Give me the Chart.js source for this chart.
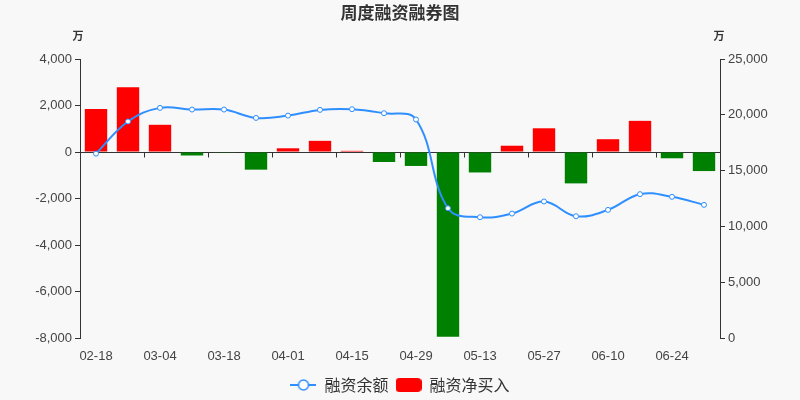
<!DOCTYPE html>
<html>
<head>
<meta charset="utf-8">
<script src="https://cdn.jsdelivr.net/npm/chart.js@4/dist/chart.umd.min.js"></script>
<style>
html,body{margin:0;padding:0;background:#f8f8f8;}
#wrap{width:800px;height:400px;}
</style>
</head>
<body>
<div id="wrap"><canvas id="chart" width="800" height="400"></canvas></div>
<script>
var dates = ['02-18','02-25','03-04','03-11','03-18','03-25','04-01','04-08','04-15','04-22','04-29','05-06','05-13','05-20','05-27','06-03','06-10','06-17','06-24','07-01'];
var balance = [16520,19400,20620,20470,20470,19720,19930,20440,20500,20140,19580,11630,10820,11150,12230,10910,11480,12890,12650,11930];
var netBuy = [1850,2790,1170,-150,-30,-760,160,480,50,-430,-600,-7950,-880,270,1020,-1350,550,1340,-270,-820];
var leftTicks = [-8000,4000,2000];
var rightTicks = [0,25000,5000];

var barColors = netBuy.map(function(v){ return v >= 0 ? '#ff0000' : '#008000'; });
var cjkFont = '"Noto Sans CJK SC", sans-serif';
var numFont = '"Liberation Sans", Arial, sans-serif';
var lineColor = '#2f8fff';

// legend icons
function lineIcon(){
	var cv = document.createElement('canvas');
	cv.width = 26; cv.height = 14;
	var c = cv.getContext('2d');
	c.strokeStyle = lineColor;
	c.lineWidth = 2;
	c.beginPath(); c.moveTo(0, 7); c.lineTo(26, 7); c.stroke();
	c.fillStyle = '#ffffff';
	c.lineWidth = 1.5;
	c.beginPath(); c.arc(13, 7, 5, 0, Math.PI * 2); c.fill(); c.stroke();
	return cv;
}
function barIcon(){
	var cv = document.createElement('canvas');
	cv.width = 26; cv.height = 14;
	var c = cv.getContext('2d');
	c.fillStyle = '#ff0000';
	c.beginPath();
	c.roundRect(0, 0, 26, 14, 4);
	c.fill();
	return cv;
}

// background, title, unit labels, zero line with ticks
var deco = {
	id: 'deco',
	beforeDraw: function(chart){
		var c = chart.ctx;
		c.save();
		c.fillStyle = '#f8f8f8';
		c.fillRect(0, 0, chart.width, chart.height);
		c.restore();
	},
	beforeDatasetsDraw: function(chart){
		var c = chart.ctx;
		var x = chart.scales.x, y = chart.scales.y;
		var zy = Math.round(y.getPixelForValue(0)) + 0.5;
		c.save();
		c.strokeStyle = '#333';
		c.lineWidth = 1;
		c.beginPath();
		c.moveTo(chart.chartArea.left, zy);
		c.lineTo(chart.chartArea.right, zy);
		for(var i = 2; i < dates.length; i += 2){
			var bx = Math.round((x.getPixelForValue(i-1) + x.getPixelForValue(i)) / 2) + 0.5;
			c.moveTo(bx, zy);
			c.lineTo(bx, zy + 5);
		}
		c.stroke();
		c.restore();
	},
	afterDraw: function(chart){
		var c = chart.ctx;
		c.save();
		c.fillStyle = '#333';
		c.textAlign = 'center';
		c.textBaseline = 'middle';
		c.font = 'bold 17px ' + cjkFont;
		c.fillText('周度融资融券图', 400, 13);
		c.font = 'bold 11px ' + cjkFont;
		c.fillText('万', chart.chartArea.left - 2, 36);
		c.fillText('万', chart.chartArea.right - 1, 36);
		c.restore();
	}
};

var ctx = document.getElementById('chart').getContext('2d');
var chart = new Chart(ctx, {
	type: 'bar',
	data: {
		labels: dates,
		datasets: [{
			type: 'line',
			label: '融资余额',
			data: balance,
			yAxisID: 'y1',
			borderColor: lineColor,
			borderWidth: 2,
			backgroundColor: '#ffffff',
			pointBackgroundColor: '#ffffff',
			pointBorderColor: lineColor,
			pointBorderWidth: 1,
			pointRadius: 2.5,
			tension: 0.4,
			order: 0
		},{
			type: 'bar',
			label: '融资净买入',
			data: netBuy,
			yAxisID: 'y',
			backgroundColor: barColors,
			borderWidth: 0,
			barPercentage: 0.7,
			categoryPercentage: 1,
			order: 1
		}]
	},
	options: {
		responsive: false,
		animation: false,
		layout: { padding: { top: 59, left: 0, right: 0, bottom: -3 } },
		plugins: {
			title: { display: false },
			tooltip: { enabled: false },
			legend: {
				position: 'bottom',
				labels: {
					usePointStyle: true,
					pointStyleWidth: 26,
					boxHeight: 14,
					padding: 7,
					color: '#333',
					font: { size: 16, family: cjkFont },
					generateLabels: function(chart){
						return [{
							text: '融资余额', pointStyle: lineIcon(), datasetIndex: 0,
							hidden: false, fontColor: '#333', lineWidth: 0
						},{
							text: '融资净买入', pointStyle: barIcon(), datasetIndex: 1,
							hidden: false, fontColor: '#333', lineWidth: 0
						}];
					}
				}
			}
		},
		scales: {
			x: {
				grid: { display: false },
				border: { display: false },
				afterFit: function(s){ s.height = 32; },
				ticks: {
					autoSkip: false,
					maxRotation: 0,
					color: '#444',
					font: { size: 13, family: numFont },
					callback: function(v, i){ return i % 2 === 0 ? dates[i] : null; }
				}
			},
			y: {
				position: 'left',
				min: leftTicks[0], max: leftTicks[1],
				afterFit: function(s){ s.width = 80; },
				border: { display: true, color: '#333' },
				grid: { drawOnChartArea: false, drawTicks: true, tickLength: 5, color: '#333' },
				ticks: { stepSize: leftTicks[2], color: '#444', font: { size: 13, family: numFont } }
			},
			y1: {
				position: 'right',
				min: rightTicks[0], max: rightTicks[1],
				afterFit: function(s){ s.width = 80; },
				border: { display: true, color: '#333' },
				grid: { drawOnChartArea: false, drawTicks: true, tickLength: 5, color: '#333' },
				ticks: { stepSize: rightTicks[2], color: '#444', font: { size: 13, family: numFont } }
			}
		}
	},
	plugins: [deco]
});
</script>
</body>
</html>
